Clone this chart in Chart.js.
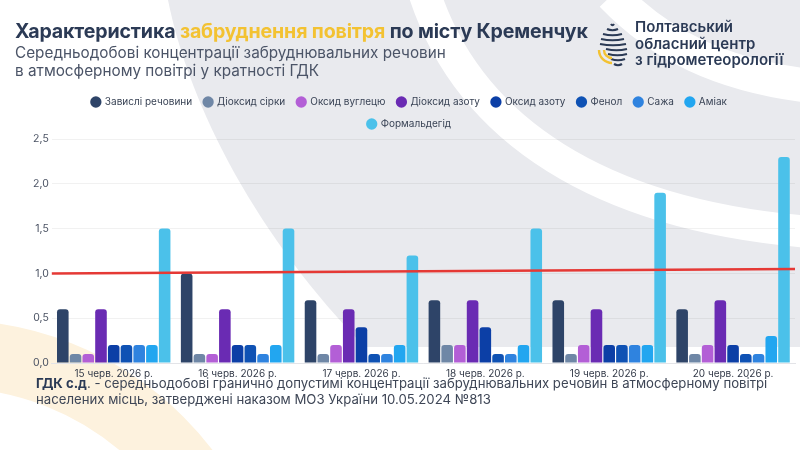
<!DOCTYPE html>
<html lang="uk">
<head>
<meta charset="utf-8">
<script src="https://cdn.jsdelivr.net/npm/chart.js@4.4.1/dist/chart.umd.min.js"></script>
<style>
  html, body { margin: 0; padding: 0; }
  body { width: 800px; height: 450px; position: relative; overflow: hidden; background: #fff; font-family: Inter, "Noto Sans", sans-serif; }
  #bg { position: absolute; left: 0; top: 0; }
  .title { position: absolute; left: 15px; top: 19px; font-size: 19.6px; font-weight: 700; color: #2b3a55; white-space: nowrap; letter-spacing: -0.15px; }
  .title span { color: #f3c232; }
  .sub { position: absolute; left: 15px; top: 44px; font-size: 15.3px; line-height: 17.5px; color: #4b5467; }
  .org { position: absolute; left: 635px; top: 19px; font-size: 15px; line-height: 16.5px; font-weight: 600; color: #2b3a55; }
  .foot { position: absolute; left: 36px; top: 375px; width: 750px; font-size: 13.2px; line-height: 16px; color: #3e4656; }
  .foot b { color: #2b3a55; }
  #wrap { position: absolute; left: 0; top: 85px; width: 800px; height: 300px; }
</style>
</head>
<body>
<canvas id="bg" width="800" height="450"></canvas>
<div class="title">Характеристика <span>забруднення повітря</span> по місту Кременчук</div>
<div class="sub">Середньодобові концентрації забруднювальних речовин<br>в атмосферному повітрі у кратності ГДК</div>
<div class="org">Полтавський<br>обласний центр<br>з гідрометеорології</div>
<div id="wrap"><canvas id="chart"></canvas></div>
<div class="foot"><b>ГДК с.д</b>. - середньодобові гранично допустимі концентрації забруднювальних речовин в атмосферному повітрі населених місць, затверджені наказом МОЗ України 10.05.2024 №813</div>

<script>
// dates on the x axis
const dates = ['15 черв. 2026 р.', '16 черв. 2026 р.', '17 черв. 2026 р.', '18 черв. 2026 р.', '19 черв. 2026 р.', '20 черв. 2026 р.'];

// concentrations, in multiples of the daily limit
const suspended      = [0.6, 1.0, 0.7, 0.7, 0.7, 0.6];
const sulfurDioxide  = [0.1, 0.1, 0.1, 0.2, 0.1, 0.1];
const carbonMonoxide = [0.1, 0.1, 0.2, 0.2, 0.2, 0.2];
const nitrogenDioxide= [0.6, 0.6, 0.6, 0.7, 0.6, 0.7];
const nitrogenOxide  = [0.2, 0.2, 0.4, 0.4, 0.2, 0.2];
const phenol         = [0.2, 0.2, 0.1, 0.1, 0.2, 0.1];
const soot           = [0.2, 0.1, 0.1, 0.1, 0.2, 0.1];
const ammonia        = [0.2, 0.2, 0.2, 0.2, 0.2, 0.3];
const formaldehyde   = [1.5, 1.5, 1.2, 1.5, 1.9, 2.3];

const names = ['Завислі речовини', 'Діоксид сірки', 'Оксид вуглецю', 'Діоксид азоту', 'Оксид азоту', 'Фенол', 'Сажа', 'Аміак', 'Формальдегід'];
const colors = ['#2e4468', '#6f87a6', '#b35fd6', '#6a2bb3', '#0c3fa6', '#0f52b4', '#2f83df', '#22a6f0', '#4bc1ea'];
const series = [suspended, sulfurDioxide, carbonMonoxide, nitrogenDioxide, nitrogenOxide, phenol, soot, ammonia, formaldehyde];

// limit line (ГДК = 1), left and right ends
const limitLine = [1.0, 1.05];

const yTicks = [0, 0.5, 1.0, 1.5, 2.0, 2.5];

// background decoration
function drawBackground(){
  const c = document.getElementById('bg').getContext('2d');
  // peach ring bottom-left
  c.strokeStyle = '#fdf2de';
  c.lineWidth = 68;
  c.beginPath(); c.arc(-50, 650, 296, 0, Math.PI * 2); c.stroke();
  // grey shape
  c.fillStyle = '#e9eaee';
  c.beginPath();
  c.moveTo(168, 0);
  c.bezierCurveTo(190, 110, 260, 240, 365, 347);
  c.lineTo(800, 347);
  c.lineTo(800, 0);
  c.closePath(); c.fill();
  // white arcs
  c.strokeStyle = '#ffffff';
  c.lineCap = 'butt';
  c.lineWidth = 32;
  c.beginPath(); c.moveTo(425, -5); c.bezierCurveTo(470, 130, 600, 215, 810, 232); c.stroke();
  c.lineWidth = 34;
  c.beginPath(); c.moveTo(612, -5); c.bezierCurveTo(660, 45, 720, 75, 810, 86); c.stroke();

  // logo
  c.strokeStyle = '#2b3a55';
  c.lineWidth = 2.2;
  const rows = [[24, 611, 614], [29, 607, 618], [34, 603, 622], [39, 601, 624], [44, 600, 626], [49, 606, 627], [54, 608, 627], [59, 611, 625], [64, 614, 622]];
  rows.forEach(([y, x0, x1]) => {
    c.beginPath(); c.moveTo(x0, y);
    c.quadraticCurveTo((x0 + x1) / 2, y + 2.5, x1, y); c.stroke();
  });
  c.strokeStyle = '#f3c232';
  c.lineWidth = 2.4;
  c.beginPath(); c.arc(612, 50, 13, Math.PI * 0.5, Math.PI * 1.0); c.stroke();
  c.beginPath(); c.arc(612, 50, 8, Math.PI * 0.5, Math.PI * 1.0); c.stroke();
}
drawBackground();

// red limit line, drawn across the plot through the y scale
const limitPlugin = {
  id: 'limitLine',
  afterLayout(chart){
    // legend sits over the plot width; nudge it to the page centre like the original
    chart.legend.left -= 14;
    chart.legend.right -= 14;
  },
  afterDatasetsDraw(chart){
    const { ctx, chartArea, scales } = chart;
    ctx.save();
    ctx.strokeStyle = '#e53935';
    ctx.lineWidth = 2.5;
    ctx.beginPath();
    ctx.moveTo(chartArea.left, scales.y.getPixelForValue(limitLine[0]));
    ctx.lineTo(chartArea.right, scales.y.getPixelForValue(limitLine[1]));
    ctx.stroke();
    ctx.restore();
  }
};

const datasets = names.map((name, i) => ({
  label: name,
  data: series[i],
  backgroundColor: colors[i],
  borderRadius: { topLeft: 3, topRight: 3 },
  borderSkipped: 'bottom',
  categoryPercentage: 0.925,
  barPercentage: 0.91
}));

new Chart(document.getElementById('chart'), {
  type: 'bar',
  data: { labels: dates, datasets },
  plugins: [limitPlugin],
  options: {
    responsive: true,
    maintainAspectRatio: false,
    animation: false,
    layout: { padding: { left: 30, right: 5, top: 0, bottom: 0 } },
    plugins: {
      legend: {
        position: 'top',
        fullSize: false,
        labels: {
          usePointStyle: true,
          pointStyle: 'circle',
          boxWidth: 8, boxHeight: 8,
          padding: 12,
          color: '#3a4456',
          font: { family: 'Inter', size: 10 }
        }
      },
      tooltip: { enabled: false }
    },
    scales: {
      x: {
        grid: { display: false, drawTicks: false },
        border: { color: '#e3e4e8' },
        ticks: { color: '#333a48', font: { family: 'Inter', size: 10 }, padding: 5 }
      },
      y: {
        min: 0, max: 2.5,
        afterBuildTicks: axis => { axis.ticks = yTicks.map(v => ({ value: v })); },
        grid: { color: 'rgba(0,0,0,0.055)', drawTicks: false },
        border: { display: false },
        ticks: {
          color: '#4a5263', font: { family: 'Inter', size: 10.5 }, padding: 3,
          callback: v => v.toFixed(1).replace('.', ',')
        }
      }
    }
  }
});
</script>
</body>
</html>
